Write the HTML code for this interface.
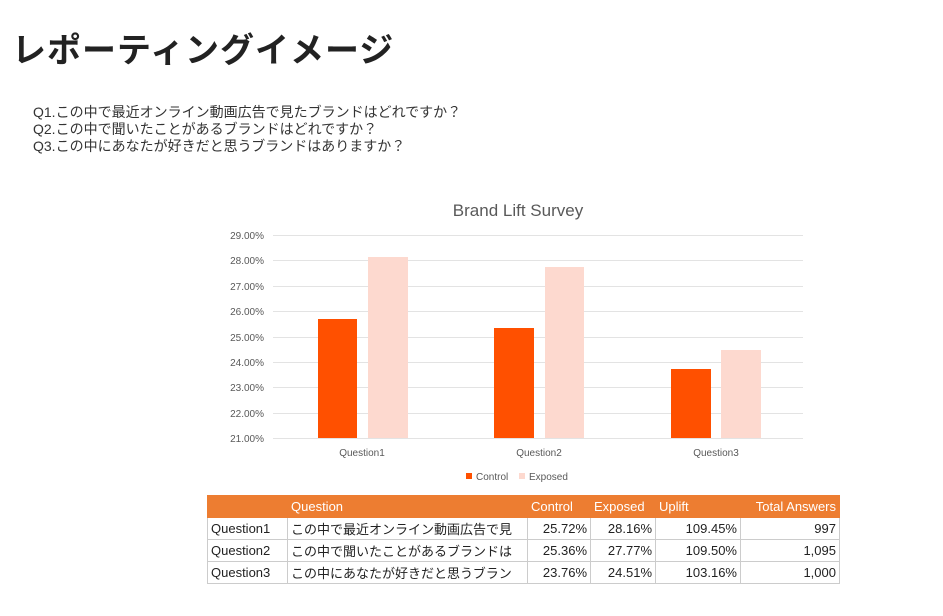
<!DOCTYPE html>
<html><head><meta charset="utf-8"><style>
body{margin:0;background:#fff;width:943px;height:616px;position:relative;overflow:hidden;font-family:"Liberation Sans","Noto Sans CJK JP",sans-serif}
h1{position:absolute;left:12px;top:23px;margin:0;font-size:34px;font-weight:bold;color:#222;letter-spacing:1px}
.q{position:absolute;left:33px;top:104px;font-size:14px;line-height:17px;color:#333}
table{position:absolute;left:207px;top:495px;border-collapse:collapse;font-size:13px;font-family:"Liberation Sans","Noto Sans CJK JP",sans-serif;color:#222}
td{border:1px solid #ccc;height:21px;padding:0 3px;white-space:nowrap;overflow:hidden}
tr.h td{background:#ed7d31;color:#fff;border-color:#ed7d31;height:21px}
.r{text-align:right}
</style></head><body>
<h1>レポーティングイメージ</h1>
<div class="q">Q1.この中で最近オンライン動画広告で見たブランドはどれですか？<br>Q2.この中で聞いたことがあるブランドはどれですか？<br>Q3.この中にあなたが好きだと思うブランドはありますか？</div>
<svg width="943" height="616" style="position:absolute;left:0;top:0" font-family="Liberation Sans, sans-serif">
<text x="518" y="216" font-size="17" fill="#595959" text-anchor="middle">Brand Lift Survey</text>
<g stroke="#e3e3e3" stroke-width="1">
<line x1="273" x2="803" y1="235.5" y2="235.5"/><line x1="273" x2="803" y1="260.5" y2="260.5"/><line x1="273" x2="803" y1="286.5" y2="286.5"/><line x1="273" x2="803" y1="311.5" y2="311.5"/><line x1="273" x2="803" y1="337.5" y2="337.5"/><line x1="273" x2="803" y1="362.5" y2="362.5"/><line x1="273" x2="803" y1="387.5" y2="387.5"/><line x1="273" x2="803" y1="413.5" y2="413.5"/><line x1="273" x2="803" y1="438.5" y2="438.5"/>
</g>
<g font-size="10" fill="#595959" text-anchor="end">
<text x="264" y="239">29.00%</text><text x="264" y="264">28.00%</text><text x="264" y="290">27.00%</text><text x="264" y="315">26.00%</text><text x="264" y="341">25.00%</text><text x="264" y="366">24.00%</text><text x="264" y="391">23.00%</text><text x="264" y="417">22.00%</text><text x="264" y="442">21.00%</text>
</g>
<g fill="#ff5000">
<rect x="318" y="319" width="39" height="119"/><rect x="494" y="328" width="40" height="110"/><rect x="671" y="369" width="40" height="69"/>
</g>
<g fill="#fdd9cf">
<rect x="368" y="257" width="40" height="181"/><rect x="545" y="267" width="39" height="171"/><rect x="721" y="350" width="40" height="88"/>
</g>
<g font-size="10" fill="#595959" text-anchor="middle">
<text x="362" y="456">Question1</text><text x="539" y="456">Question2</text><text x="716" y="456">Question3</text>
</g>
<rect x="466" y="473" width="6" height="6" fill="#ff5000"/><text x="476" y="480" font-size="10" fill="#595959">Control</text>
<rect x="519" y="473" width="6" height="6" fill="#fdd9cf"/><text x="529" y="480" font-size="10" fill="#595959">Exposed</text>
</svg>
<table>
<colgroup><col style="width:80px"><col style="width:240px"><col style="width:63px"><col style="width:65px"><col style="width:85px"><col style="width:99px"></colgroup>
<tr class="h"><td></td><td>Question</td><td>Control</td><td>Exposed</td><td>Uplift</td><td class="r">Total Answers</td></tr>
<tr><td>Question1</td><td>この中で最近オンライン動画広告で見</td><td class="r">25.72%</td><td class="r">28.16%</td><td class="r">109.45%</td><td class="r">997</td></tr>
<tr><td>Question2</td><td>この中で聞いたことがあるブランドは</td><td class="r">25.36%</td><td class="r">27.77%</td><td class="r">109.50%</td><td class="r">1,095</td></tr>
<tr><td>Question3</td><td>この中にあなたが好きだと思うブラン</td><td class="r">23.76%</td><td class="r">24.51%</td><td class="r">103.16%</td><td class="r">1,000</td></tr>
</table>
</body></html>
